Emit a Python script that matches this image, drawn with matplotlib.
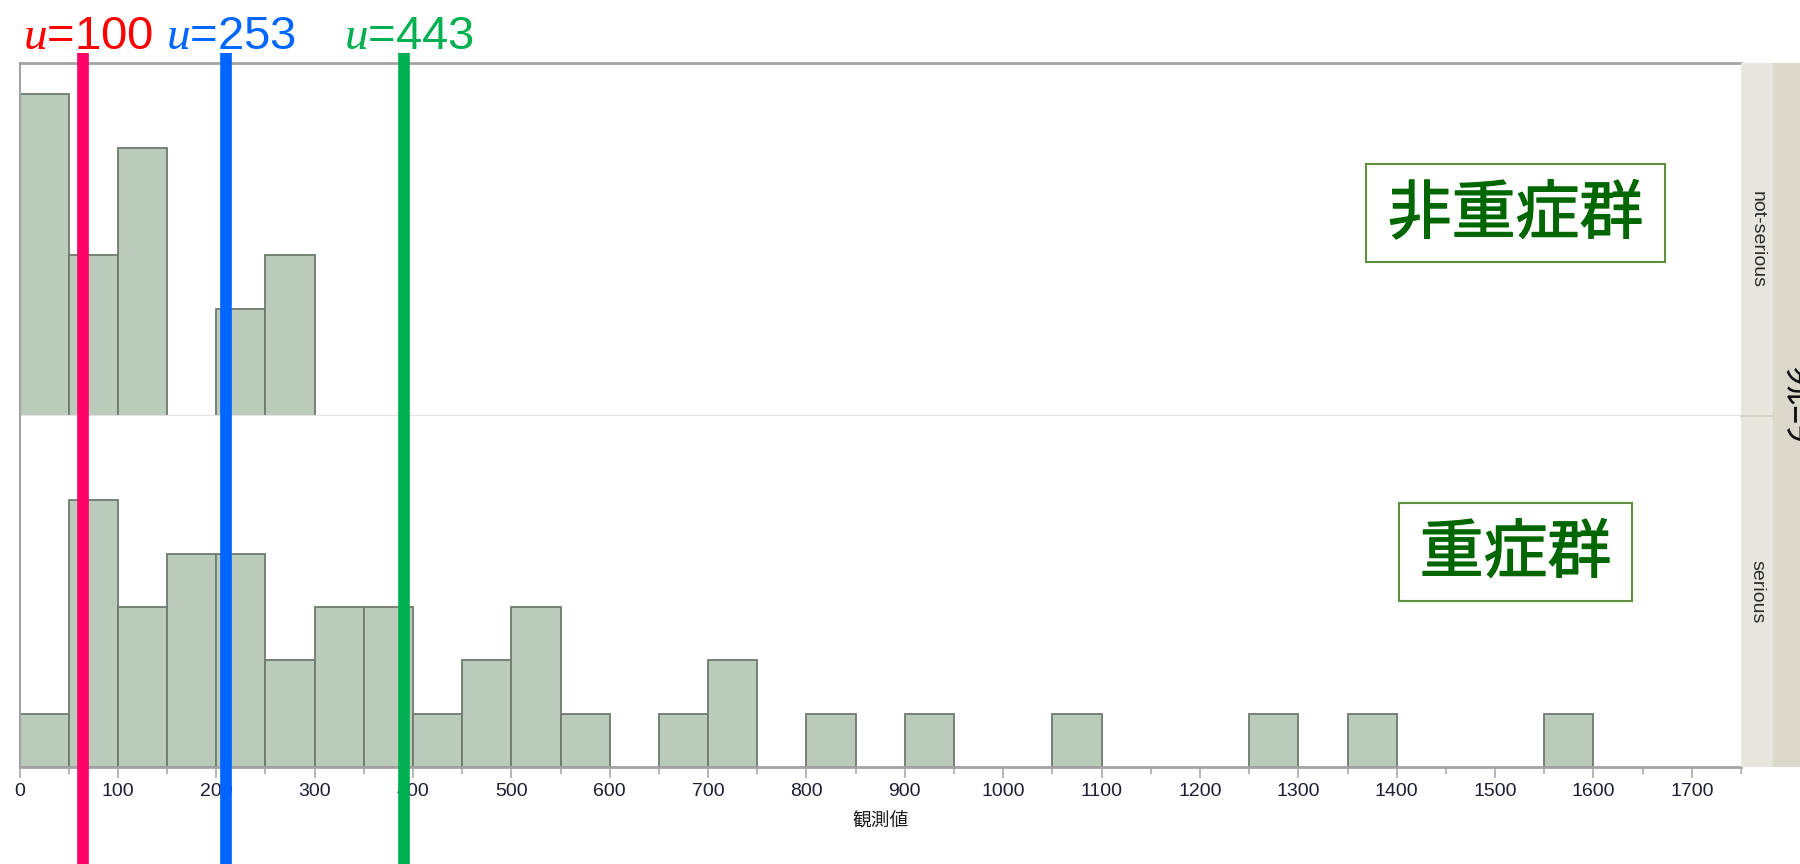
"""Histogram of 観測値 by group (not-serious / serious) with three marker lines."""
import numpy as np
import matplotlib.pyplot as plt
import matplotlib.patheffects as pe
from matplotlib.patches import Rectangle
from matplotlib.lines import Line2D
from matplotlib.transforms import blended_transform_factory, offset_copy

plt.rcParams['font.family'] = ['Liberation Sans', 'Noto Sans CJK JP', 'DejaVu Sans']
plt.rcParams['mathtext.fontset'] = 'custom'
plt.rcParams['mathtext.it'] = 'Liberation Serif:italic'
plt.rcParams['mathtext.rm'] = 'Liberation Sans'

BIN_W = 50
# counts per 50-wide bin starting at 0
NOT_SERIOUS = [6, 3, 5, 0, 2, 3]
SERIOUS = [1, 5, 3, 4, 4, 2, 3, 3, 1, 2, 3, 1, 0, 1, 2, 0,
           1, 0, 1, 0, 0, 1, 0, 0, 0, 1, 0, 1, 0, 0, 0, 1]
GROUPS = ['not-serious', 'serious']
GROUP_JP = ['非重症群', '重症群']
STRIP_TITLE = 'グループ'
XLABEL = '観測値'
XTICKS = list(range(0, 1800, 100))

LINE_X = [65, 210, 391]          # where the marker lines sit on the axis
U_VALS = [100, 253, 443]         # what they are labelled with
LINE_COLORS = ['#FF0066', '#0066FF', '#00B050']
LABEL_COLORS = ['#FF0000', '#0066FF', '#00B050']

BAR_FACE = '#BACBBB'
BAR_EDGE = '#6E7B6E'
SPINE = '#A3A3A3'
JP_FONT = ['Noto Sans CJK JP', 'DejaVu Sans']

W, H = 1800, 864


def fx(px):
    return px / W


def fy(py):
    return 1 - py / H


def main():
    fig = plt.figure(figsize=(W / 100, H / 100), dpi=100)
    L, R, T, M, B = 19.5, 1741, 63, 416, 767
    ax_top = fig.add_axes([fx(L), fy(M), (R - L) / W, (M - T) / H])
    ax_bot = fig.add_axes([fx(L), fy(B), (R - L) / W, (B - M) / H])

    for ax, counts in zip([ax_top, ax_bot], [NOT_SERIOUS, SERIOUS]):
        counts = np.array(counts)
        left = np.arange(len(counts)) * BIN_W
        keep = counts > 0
        ax.bar(left[keep], counts[keep], width=BIN_W, align='edge',
               color=BAR_FACE, edgecolor=BAR_EDGE, linewidth=1.3, zorder=2)
        ax.set_xlim(0, 1750)
        ax.set_ylim(0, 6.58)
        ax.set_yticks([])
        ax.spines['right'].set_visible(False)
        ax.spines['left'].set_color(SPINE)
        ax.spines['left'].set_linewidth(1.5)

    ax_top.set_xticks([])
    ax_top.spines['top'].set_color(SPINE)
    ax_top.spines['top'].set_linewidth(2)
    ax_top.spines['bottom'].set_color('#E2E2E2')
    ax_top.spines['bottom'].set_linewidth(1.5)

    ax_bot.spines['top'].set_visible(False)
    ax_bot.spines['bottom'].set_color(SPINE)
    ax_bot.spines['bottom'].set_linewidth(2)
    ax_bot.set_xticks(XTICKS)
    ax_bot.set_xticks(np.arange(50, 1800, 100), minor=True)
    ax_bot.tick_params(axis='x', which='major', length=8, width=1.1,
                       color=SPINE, pad=3.5, labelsize=14, labelcolor='#1E1E33')
    ax_bot.tick_params(axis='x', which='minor', length=5, width=1.1, color=SPINE)
    ax_bot.set_xlabel(XLABEL, fontsize=13.5, family=JP_FONT, color='#1E1E1E',
                      va='center')
    ax_bot.xaxis.set_label_coords(0.5, -(821 - B) / (B - M))

    # group strip on the right
    fig.add_artist(Rectangle((fx(1741), fy(B)), 32 / W, (B - T) / H,
                             transform=fig.transFigure, color='#E6E6DE', lw=0))
    fig.add_artist(Rectangle((fx(1773), fy(B)), 27 / W, (B - T) / H,
                             transform=fig.transFigure, color='#DAD9CB', lw=0))
    fig.add_artist(Line2D([fx(1741), fx(1773)], [fy(M), fy(M)],
                          transform=fig.transFigure, color='#D3D3C6', lw=1.5))
    for name, yc in zip(GROUPS, [(T + M) / 2, (M + B) / 2]):
        fig.text(fx(1757), fy(yc), name, rotation=-90, ha='center', va='center',
                 fontsize=14, color='#2A2A2A')
    fig.text(fx(1792), fy(405), STRIP_TITLE, rotation=-90, ha='center',
             va='center', fontsize=14, fontweight='bold', family=JP_FONT,
             color='#111111')

    # boxed group names
    boxes = [(1366, 164, 1665, 262), (1399, 503, 1632, 601)]
    for name, (x0, y0, x1, y1) in zip(GROUP_JP, boxes):
        fig.add_artist(Rectangle((fx(x0), fy(y1)), (x1 - x0) / W, (y1 - y0) / H,
                                 transform=fig.transFigure, fill=False,
                                 edgecolor='#5E8F3E', lw=1.5, zorder=5))
        fig.text(fx((x0 + x1) / 2), fy((y0 + y1) / 2 + 2), name,
                 ha='center', va='center', fontsize=46, family=JP_FONT,
                 color='#006600', zorder=6,
                 path_effects=[pe.withStroke(linewidth=0.9, foreground='#006600')])

    # marker lines, running off the bottom of the figure
    trans = blended_transform_factory(ax_bot.transData, fig.transFigure)
    label_trans = offset_copy(trans, fig=fig, x=3.2, y=0, units='points')
    for x, u, lc, tc in zip(LINE_X, U_VALS, LINE_COLORS, LABEL_COLORS):
        fig.add_artist(Line2D([x, x], [fy(53), 0], transform=trans, color=lc,
                              lw=8.4, solid_capstyle='butt', zorder=10))
        fig.text(x, fy(49), rf'$u$={u}', transform=label_trans, ha='center',
                 va='baseline', fontsize=34, color=tc,
                 family='Liberation Sans', zorder=10)

    fig.savefig('out.png', dpi=100)


if __name__ == '__main__':
    main()
